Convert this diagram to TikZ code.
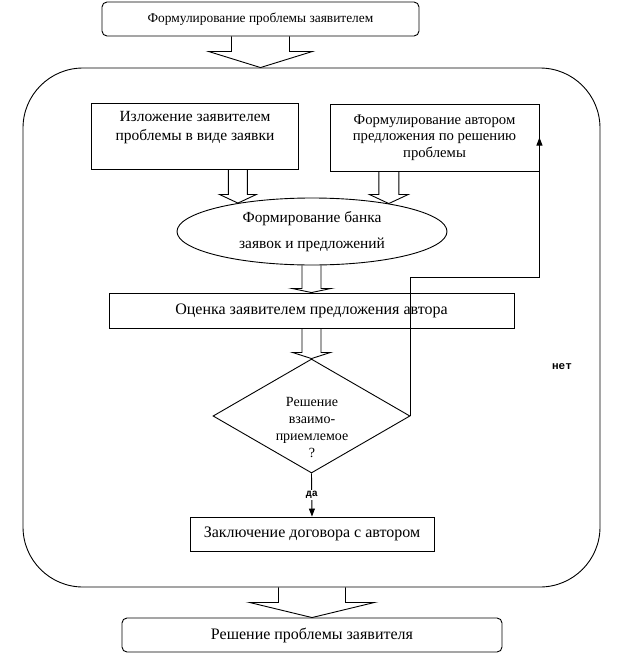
\documentclass[tikz,border=0pt]{standalone}
\usepackage{fontspec}
\setmainfont{Liberation Serif}
\newfontfamily\monob{Liberation Mono}
\usetikzlibrary{shapes.geometric,calc,arrows.meta}
\newcommand{\fsz}[2]{\fontsize{#1}{#2}\selectfont}
\newcommand{\barr}[5]{%
  \draw[blk] ($(#1.south -| #2)+(-#3,0)$) -- ++(0,#5) -- ++(#3-#4,0) -- (#2)
    -- ($(#1.south -| #2)+(#4,#5)$) -- ++(#3-#4,0) -- ++(0,-#5);}
\begin{document}
\begin{tikzpicture}[x=1pt,y=-1pt,line width=0.9pt,
  box/.style={draw,rectangle,inner sep=0pt,align=center,font=\fsz{16}{17}},
  rbox/.style={box,rounded corners=5pt},
  txt/.style={align=center,inner sep=0pt},
  blk/.style={draw,line join=miter},
  fbline/.style={draw,-{Triangle[length=8pt,width=6pt]}},
  lbl/.style={font=\monob\bfseries\fsz{10}{10},inner sep=1pt}]
\useasboundingbox (0,0) rectangle (625,654);
\node[rbox,minimum width=317,minimum height=34,font=\fsz{13.4}{15}] (top) at (260.5,19) {Формулирование проблемы заявителем};
\node[draw,rectangle,rounded corners=60pt,minimum width=577,minimum height=519] (big) at (311.5,327.5) {};
\node[box,minimum width=207,minimum height=66] (b1) at (194.5,136) {};
\node[txt,font=\fsz{15.5}{19}] (b1t) at (195,127.5) {Изложение заявителем\\проблемы в виде заявки};
\node[box,minimum width=209,minimum height=67,font=\fsz{14.7}{16.5}] (b2) at (434.5,137.5) {Формулирование автором\\предложения по решению\\проблемы};
\node[draw,ellipse,inner sep=0pt,minimum width=270,minimum height=67,align=center,font=\fsz{15.4}{26}] (ell) at (312,231.5) {Формирование банка\\заявок и предложений};
\node[box,minimum width=405,minimum height=35] (b3) at (311.5,310.5) {Оценка заявителем предложения автора};
\node[draw,diamond,inner sep=0pt,minimum width=197,minimum height=114] (dia) at (311.5,416) {};
\node[txt,font=\fsz{14}{17}] (diat) at (312,428) {Решение\\взаимо-\\приемлемое\\?};
\node[box,minimum width=244,minimum height=34] (b4) at (312,534) {Заключение договора с автором};
\node[rbox,minimum width=380,minimum height=34] (bot) at (312,635) {Решение проблемы заявителя};
\node[lbl,font=\monob\bfseries\fsz{11}{11}] (net) at (562,367) {нет};
\coordinate (t0) at (big.north -| top.south);
\coordinate (t1) at (ell.159.3);
\coordinate (t2) at (ell.20);
\coordinate (t3) at (b3.north);
\coordinate (t4) at (dia.north);
\coordinate (t5) at (bot.north);
\barr{top}{t0}{29}{52}{15}
\barr{b1}{t1}{9.5}{18.5}{25}
\barr{b2}{t2}{10}{19.5}{23}
\barr{ell}{t3}{9.5}{19.5}{23}
\barr{b3}{t4}{9.5}{19}{24}
\barr{big}{t5}{33.5}{62.5}{15}
\draw[fbline] (dia.east) -- ++(0,-139) -| (b2.east);
\draw[fbline] (dia.south) -- node[lbl,fill=white] (da) {да} (b4.north);
\end{tikzpicture}
\end{document}
